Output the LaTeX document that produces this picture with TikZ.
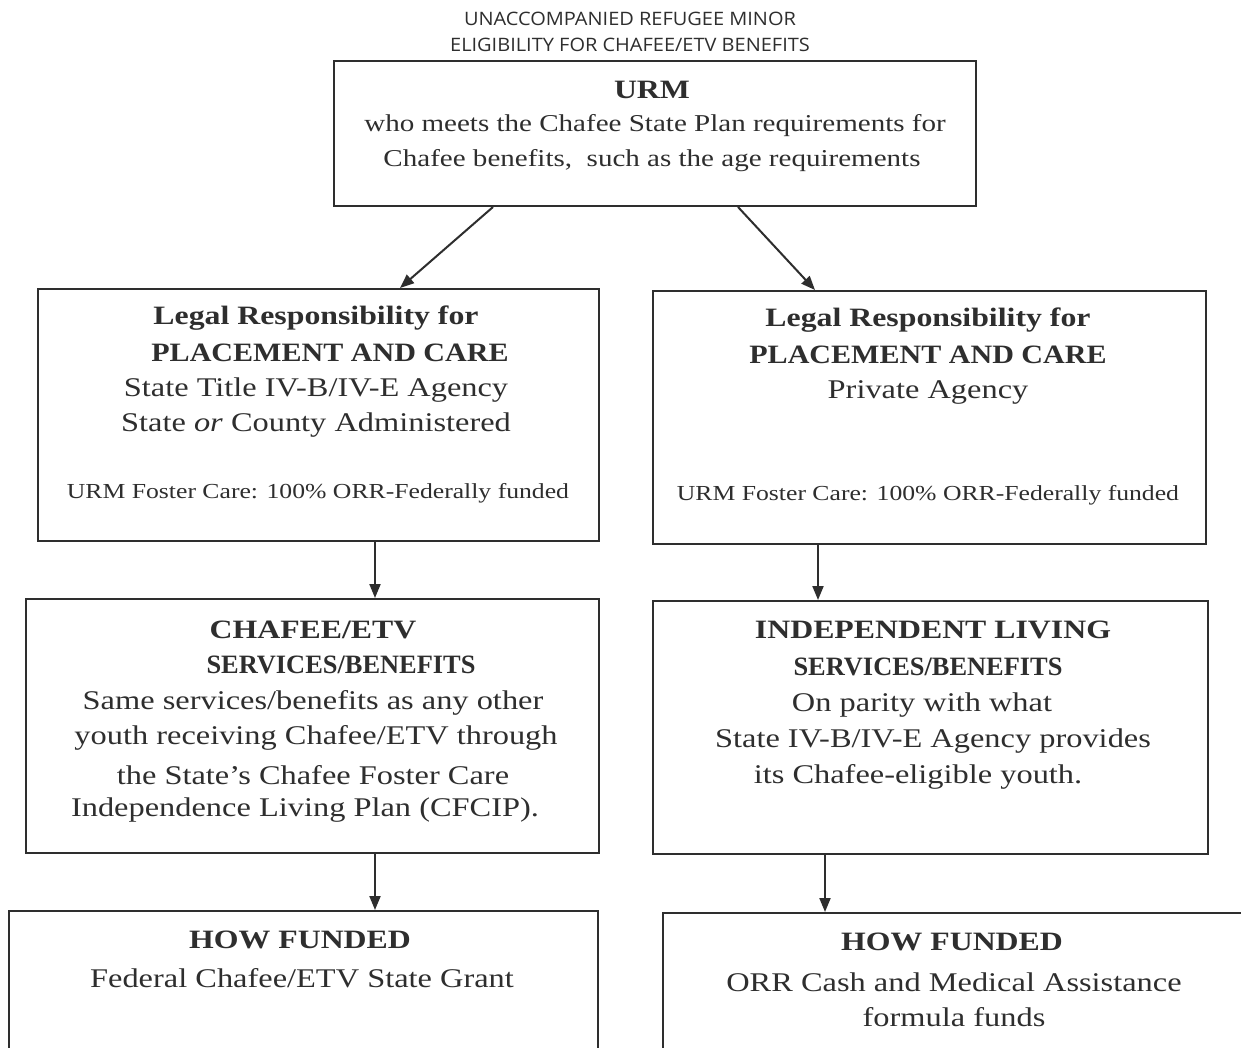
\documentclass[tikz,border=0pt]{standalone}
\usepackage{fontspec}
\setmainfont{Liberation Serif}[FakeStretch=1.2]
\newfontfamily\titlefont{Open Sans}[FakeStretch=1.08]
\usetikzlibrary{arrows.meta}
\definecolor{ink}{HTML}{2E2E2E}
\tikzset{
  box/.style={draw=ink, line width=2pt, rectangle, anchor=north west, inner sep=0pt},
  arr/.style={draw=ink, line width=2pt, -{Triangle[length=14pt,width=11pt]}},
  txt/.style={text=ink, inner sep=0pt, anchor=center, font=\fontsize{27}{32}\selectfont},
  urmtxt/.style={text=ink, inner sep=0pt, anchor=center, font=\fontsize{24.2}{29}\selectfont},
  hd/.style={text=ink, inner sep=0pt, anchor=center, font=\fontsize{26.5}{31}\selectfont\bfseries},
  small/.style={text=ink, inner sep=0pt, anchor=center, font=\fontsize{21.4}{25}\selectfont},
  ttl/.style={text=ink, inner sep=0pt, anchor=center, font=\fontsize{18.5}{22}\selectfont\titlefont},
}
\newcommand{\narrow}[2]{\scalebox{#1}[1]{#2}}
\begin{document}
\begin{tikzpicture}[x=1pt,y=-1pt]
\useasboundingbox (0,0) rectangle (1241,1048);
\clip (0,0) rectangle (1241,1048);
\fill[white] (0,0) rectangle (1241,1048);

% title
\node[ttl] (t1) at (630,19) {UNACCOMPANIED REFUGEE MINOR};
\node[ttl] (t2) at (630,45) {ELIGIBILITY FOR CHAFEE/ETV BENEFITS};

% boxes
\node[box, minimum width=642pt, minimum height=145pt] (urm) at (333,60) {};
\node[box, minimum width=561pt, minimum height=252pt] (l2) at (37,288) {};
\node[box, minimum width=553pt, minimum height=253pt] (r2) at (652,290) {};
\node[box, minimum width=573pt, minimum height=254pt] (l3) at (25,598) {};
\node[box, minimum width=555pt, minimum height=253pt] (r3) at (652,600) {};
\node[box, minimum width=589pt, minimum height=200pt] (l4) at (8,910) {};
\node[box, minimum width=620pt, minimum height=200pt] (r4) at (662,912) {};

% URM text
\node[hd] (urmh) at (652,90) {URM};
\node[urmtxt] (urm1) at (655,126) {who meets the Chafee State Plan requirements for};
\node[urmtxt] (urm2) at (652,161) {Chafee benefits,\ \ such as the age requirements};

% left column
\node[hd] (l2a) at (316,318) {Legal Responsibility for};
\node[hd] (l2b) at (330,353) {\narrow{0.945}{PLACEMENT AND CARE}};
\node[txt] (l2c) at (316,390) {State Title IV-B/IV-E Agency};
\node[txt] (l2d) at (316,425) {State \textit{or} County Administered};
\node[small] (l2e) at (318,493) {URM Foster Care: 100\% ORR-Federally funded};

\node[hd] (l3a) at (313,630) {CHAFEE/ETV};
\node[hd] (l3b) at (341,665) {\narrow{0.83}{SERVICES/BENEFITS}};
\node[txt] (l3c) at (313,703) {Same services/benefits as any other};
\node[txt] (l3d) at (316,738) {youth receiving Chafee/ETV\ through};
\node[txt] (l3e) at (313,775) {the State's Chafee Foster Care};
\node[txt] (l3f) at (305,810) {Independence Living Plan (CFCIP).};

\node[hd] (l4a) at (300,940) {HOW FUNDED};
\node[txt] (l4b) at (302,978) {Federal Chafee/ETV State Grant};

% right column
\node[hd] (r2a) at (928,320) {Legal Responsibility for};
\node[hd] (r2b) at (928,355) {\narrow{0.945}{PLACEMENT AND CARE}};
\node[txt] (r2c) at (928,392) {Private Agency};
\node[small] (r2e) at (928,495) {URM Foster Care: 100\% ORR-Federally funded};

\node[hd] (r3a) at (933,630) {INDEPENDENT LIVING};
\node[hd] (r3b) at (928,667) {\narrow{0.83}{SERVICES/BENEFITS}};
\node[txt] (r3c) at (922,705) {On parity with what};
\node[txt] (r3d) at (933,741) {State IV-B/IV-E Agency provides};
\node[txt] (r3e) at (918,777) {its Chafee-eligible youth.};

\node[hd] (r4a) at (952,942) {HOW FUNDED};
\node[txt] (r4b) at (954,982) {ORR Cash and Medical Assistance};
\node[txt] (r4c) at (954,1017) {formula funds};

% connectors
\draw[arr] ([xshift=160pt]urm.south west) -- ([xshift=363pt]l2.north west);
\draw[arr] ([xshift=405pt]urm.south west) -- ([xshift=163pt]r2.north west);
\draw[arr] (l2.south -| 375,0) -- (l3.north -| 375,0);
\draw[arr] (r2.south -| 818,0) -- (r3.north -| 818,0);
\draw[arr] (l3.south -| 375,0) -- (l4.north -| 375,0);
\draw[arr] (r3.south -| 825,0) -- (r4.north -| 825,0);
\end{tikzpicture}
\end{document}
